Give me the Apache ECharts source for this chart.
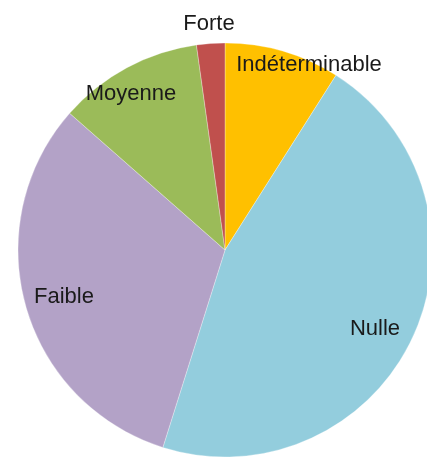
<!DOCTYPE html>
<html>
<head>
<meta charset="utf-8">
<script src="https://cdn.jsdelivr.net/npm/echarts@6/dist/echarts.min.js"></script>
<style>
  html, body { margin: 0; padding: 0; background: #fff; }
  #chart { width: 427px; height: 458px; }
</style>
</head>
<body>
<div id="chart"></div>
<script>
// catégories et valeurs (%), dans le sens horaire depuis le haut
var categories = ['Indéterminable', 'Nulle', 'Faible', 'Moyenne', 'Forte'];
var values = [9.0, 45.8, 31.6, 11.3, 2.2];
var colors = ['#FFC000', '#93CDDD', '#B3A2C7', '#9BBB59', '#C0504D'];

// position des étiquettes
var labelPos = [[309, 65], [375, 329], [64, 297], [131, 94], [209, 24]];

var myChart = echarts.init(document.getElementById('chart'));

var data = categories.map(function (name, i) {
    return { name: name, value: values[i], itemStyle: { color: colors[i] } };
});

var option = {
    animation: false,
    series: [{
        type: 'pie',
        center: [225, 250],
        radius: 207,
        startAngle: 90,
        clockwise: true,
        data: data,
        itemStyle: { borderColor: 'rgba(255,255,255,0.6)', borderWidth: 0.5 },
        label: {
            show: true,
            position: 'inside',
            formatter: '{b}',
            color: '#1a1a1a',
            fontSize: 22,
            fontFamily: 'Liberation Sans'
        },
        labelLine: { show: false },
        labelLayout: function (params) {
            var p = labelPos[params.dataIndex];
            return { x: p[0], y: p[1], align: 'center', verticalAlign: 'middle' };
        }
    }]
};

myChart.setOption(option);
</script>
</body>
</html>
